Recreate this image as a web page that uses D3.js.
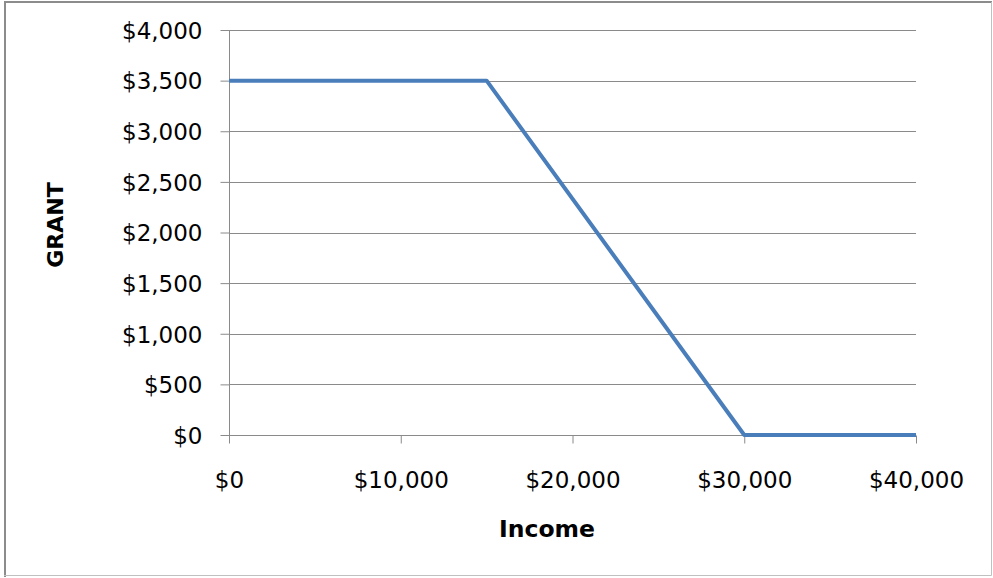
<!DOCTYPE html>
<html><head><meta charset="utf-8">
<script src="https://cdn.jsdelivr.net/npm/d3@7"></script>
<style>body{margin:0;background:#fff}svg{display:block}</style>
</head><body>
<svg id="c" width="993" height="578"></svg>
<script>
const incomes = [0, 15000, 30000, 40000];
const grants = [3500, 3500, 0, 0];
const xTicks = [0, 10000, 20000, 30000, 40000];
const yTicks = [0, 500, 1000, 1500, 2000, 2500, 3000, 3500, 4000];
const xTitle = "Income";
const yTitle = "GRANT";

const svg = d3.select("#c");
const font = "'DejaVu Sans', Verdana, sans-serif";
// chart frame
svg.append("rect").attr("x",0).attr("y",0).attr("width",993).attr("height",578).attr("fill","#fff");
svg.append("path").attr("d","M5,577V2H992").attr("fill","none").attr("stroke","#8c8c8c").attr("stroke-width",2);
svg.append("path").attr("d","M4,575.5H991.5V2").attr("fill","none").attr("stroke","#c0c0c0").attr("stroke-width",1);

const x = d3.scaleLinear().domain([0,40000]).range([229,916]);
const y = d3.scaleLinear().domain([0,4000]).range([435,30]);
const fmt = d3.format("$,");

// gridlines
svg.append("g").selectAll("line").data(yTicks.filter(d=>d>0)).join("line")
  .attr("x1",x(0)).attr("x2",x(40000)).attr("y1",d=>Math.round(y(d))+0.5).attr("y2",d=>Math.round(y(d))+0.5)
  .attr("stroke","#8a8a8a").attr("stroke-width",1);

const yAxis = svg.append("g").attr("transform",`translate(${x(0)+0.5},0)`)
  .call(d3.axisLeft(y).tickValues(yTicks).tickFormat(fmt).tickSize(9).tickPadding(18));
const xAxis = svg.append("g").attr("transform",`translate(0,${Math.round(y(0))+0.5})`)
  .call(d3.axisBottom(x).tickValues(xTicks).tickFormat(fmt).tickSize(8).tickPadding(28));
[yAxis,xAxis].forEach(a=>{
  a.select(".domain").attr("stroke","#8a8a8a");
  a.selectAll(".tick line").attr("stroke","#8a8a8a");
  a.selectAll("text").attr("font-family",font).attr("font-size",23).attr("fill","#000");
});
yAxis.selectAll("text").attr("dy","0.36em");
yAxis.select(".domain").attr("d",`M0,${y(4000)}V${y(0)}`);
xAxis.select(".domain").attr("d",`M${x(0)},0H${x(40000)}`);

const line = d3.line().x((d,i)=>x(incomes[i])).y(d=>y(d));
svg.append("path").datum(grants).attr("d",line).attr("fill","none")
  .attr("stroke","#4a7ebb").attr("stroke-width",4).attr("stroke-linejoin","round");

svg.append("text").attr("x",547).attr("y",537).attr("text-anchor","middle")
  .attr("font-family",font).attr("font-weight","bold").attr("font-size",23.5).text(xTitle);
svg.append("text").attr("transform","translate(63,225) rotate(-90)").attr("text-anchor","middle")
  .attr("font-family",font).attr("font-weight","bold").attr("font-size",22).text(yTitle);
</script>
</body></html>
